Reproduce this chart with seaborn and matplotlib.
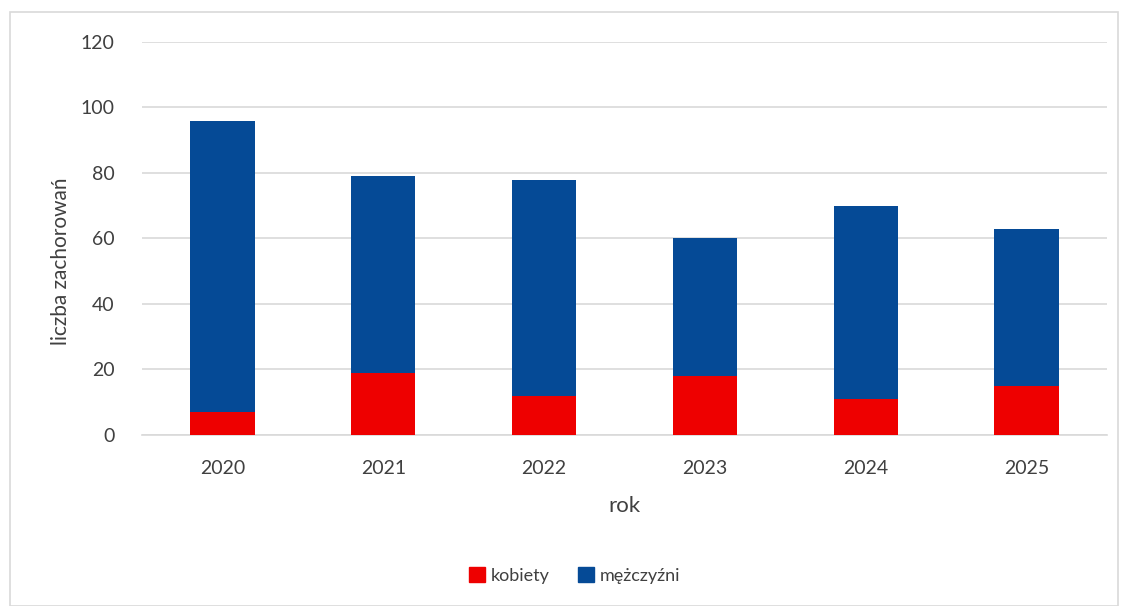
import matplotlib
matplotlib.use("Agg")
import matplotlib.pyplot as plt
import matplotlib.patches as mpatches
import seaborn as sns
import numpy as np
import pandas as pd

# data
years = ["2020", "2021", "2022", "2023", "2024", "2025"]
kobiety = np.array([7, 19, 12, 18, 11, 15])
mezczyzni = np.array([89, 60, 66, 42, 59, 48])

red = "#EE0000"
blue = "#054A96"
text_col = "#404040"
grid_col = "#D9D9D9"

sns.set_theme(style="white")
plt.rcParams["font.family"] = ["Lato", "DejaVu Sans"]

df = pd.DataFrame({"rok": years, "kobiety": kobiety,
                   "razem": kobiety + mezczyzni})

fig = plt.figure(figsize=(11.22, 6.06), dpi=100)
ax = fig.add_axes([0.1266, 0.2822, 0.86, 0.6485])

# stacked bars: total in blue, women drawn over it in red
sns.barplot(data=df, x="rok", y="razem", color=blue, width=0.4,
            saturation=1, linewidth=0, ax=ax, zorder=3)
sns.barplot(data=df, x="rok", y="kobiety", color=red, width=0.4,
            saturation=1, linewidth=0, ax=ax, zorder=4)

ax.set_ylim(0, 120)
ax.set_yticks(range(0, 121, 20))
ax.set_xlim(-0.5, len(years) - 0.5)
ax.yaxis.grid(True, color=grid_col, linewidth=1.2, zorder=0)
ax.set_axisbelow(True)
for s in ["top", "right", "left"]:
    ax.spines[s].set_visible(False)
ax.spines["bottom"].set_color(grid_col)
ax.spines["bottom"].set_linewidth(1.2)
ax.tick_params(axis="both", length=0, labelsize=14, labelcolor=text_col)
ax.tick_params(axis="y", pad=20)
ax.tick_params(axis="x", pad=18)

ax.set_xlabel("rok", fontsize=16, color=text_col, labelpad=14)
ax.set_ylabel("liczba zachorowań", fontsize=15, color=text_col)
ax.yaxis.set_label_coords(-0.074, 0.443)

handles = [mpatches.Patch(color=red, label="kobiety"),
           mpatches.Patch(color=blue, label="mężczyźni")]
fig.legend(handles=handles, loc="center", bbox_to_anchor=(0.512, 0.05),
           ncol=2, frameon=False, fontsize=13, handlelength=0.9,
           handleheight=0.9, handletextpad=0.3, columnspacing=1.6,
           labelcolor=text_col)

# outer chart border
fig.patches.append(mpatches.Rectangle((10 / 1122, 0), 1108 / 1122, 594 / 606,
                                      transform=fig.transFigure, fill=False,
                                      edgecolor=grid_col, linewidth=1.2))

fig.savefig("out.png", dpi=100)
